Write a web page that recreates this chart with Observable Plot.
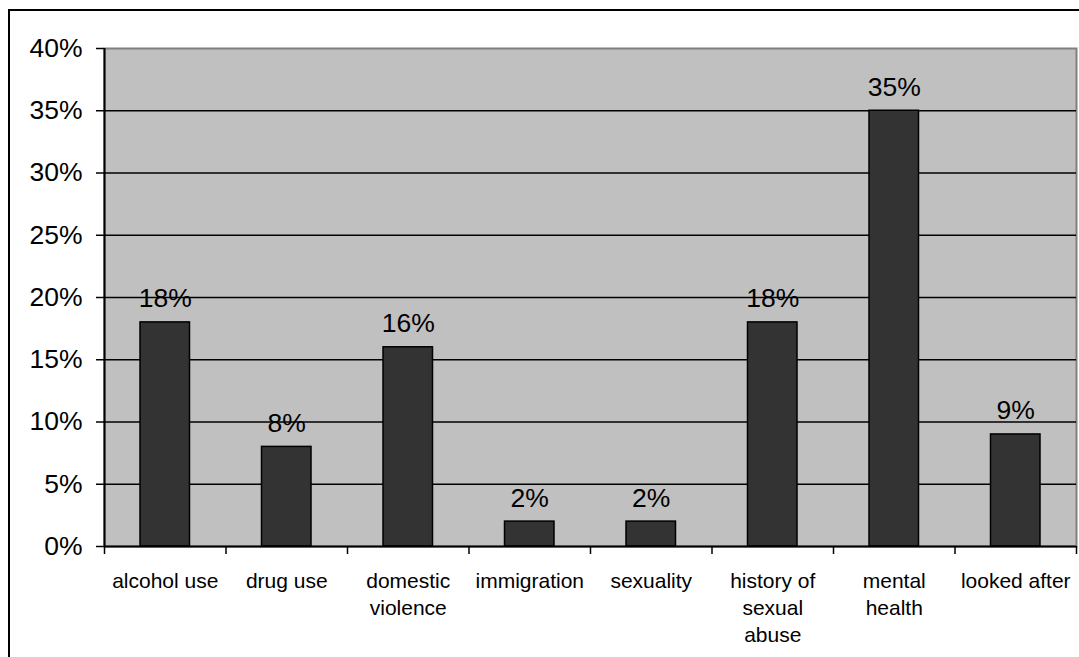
<!DOCTYPE html>
<html>
<head>
<meta charset="utf-8">
<script src="https://cdn.jsdelivr.net/npm/d3@7"></script>
<script src="https://cdn.jsdelivr.net/npm/@observablehq/plot@0.6"></script>
<style>
  html, body { margin: 0; padding: 0; background: #fff; overflow: hidden; }
  #wrap { position: relative; width: 1079px; height: 657px; }
  #border {
    position: absolute; left: 8px; top: 9px; width: 1200px; height: 800px;
    border: 2px solid #000; box-sizing: border-box;
  }
  #chart { position: absolute; left: 0; top: 0; }
  #chart svg { overflow: visible; background: transparent; }
</style>
</head>
<body>
<div id="wrap">
  <div id="border"></div>
  <div id="chart"></div>
</div>
<script>
// Reasons recorded, share of cases (%)
const categories = ["alcohol use", "drug use", "domestic violence", "immigration",
  "sexuality", "history of sexual abuse", "mental health", "looked after"];
const tickLabels = ["alcohol use", "drug use", "domestic\nviolence", "immigration",
  "sexuality", "history of\nsexual\nabuse", "mental\nhealth", "looked after"];
const values = [18, 8, 16, 2, 2, 18, 35, 9];
const yTicks = [0, 5, 10, 15, 20, 25, 30, 35, 40];

const data = categories.map((c, i) => ({category: c, i, value: values[i]}));
const font = "'Liberation Sans', Arial, sans-serif";

const chart = Plot.plot({
  width: 1079,
  height: 657,
  marginLeft: 104,
  marginRight: 3,
  marginTop: 48,
  marginBottom: 111,
  style: {fontFamily: font, color: "#000", background: "transparent"},
  x: {type: "linear", domain: [0, categories.length], axis: null},
  y: {domain: [0, 40], axis: null},
  marks: [
    // plot area
    Plot.frame({fill: "#c0c0c0", stroke: "#808080", strokeWidth: 2}),
    // horizontal gridlines
    Plot.ruleY(yTicks.filter(d => d > 0 && d < 40), {stroke: "#000", strokeWidth: 1.5}),
    // bars
    Plot.rectY(data, {
      x1: d => d.i, x2: d => d.i + 1, y1: 0, y2: "value",
      insetLeft: 36, insetRight: 36,
      fill: "#333333", stroke: "#000", strokeWidth: 1.5
    }),
    // value labels
    Plot.text(data, {
      x: d => d.i + 0.5, y: "value", text: d => `${d.value}%`,
      lineAnchor: "bottom", dy: -15, fontSize: 26.5, fill: "#000"
    }),
    // axis lines
    Plot.ruleX([0], {stroke: "#000", strokeWidth: 2}),
    Plot.ruleY([0], {stroke: "#000", strokeWidth: 2}),
    // y axis
    Plot.axisY({
      ticks: yTicks, tickSize: 8, tickPadding: 14, tickFormat: d => `${d}%`,
      label: null, fontSize: 26.5, stroke: "#000", strokeWidth: 1.5, strokeOpacity: 1
    }),
    // category boundary ticks
    Plot.axisX({
      ticks: d3.range(categories.length + 1), tickSize: 8, tickFormat: () => "",
      label: null, stroke: "#000", strokeWidth: 1.5, strokeOpacity: 1
    }),
    // category labels
    Plot.axisX({
      ticks: d3.range(categories.length).map(i => i + 0.5),
      tickSize: 0, tickPadding: 23, lineHeight: 1.27,
      tickFormat: t => tickLabels[Math.floor(t)],
      label: null, fontSize: 21
    })
  ]
});

document.getElementById("chart").appendChild(chart);
</script>
</body>
</html>
